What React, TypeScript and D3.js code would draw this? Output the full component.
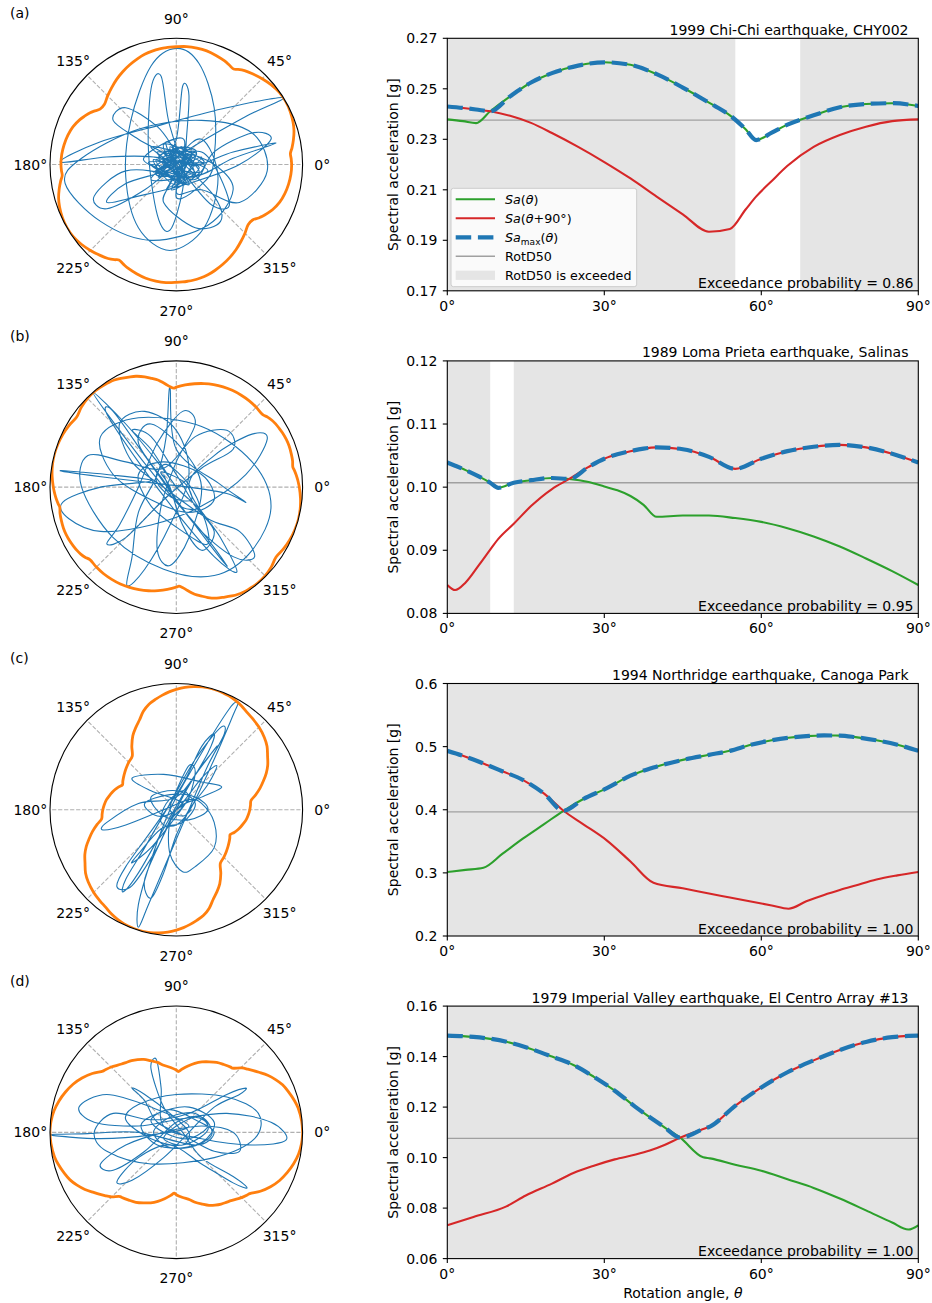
import React from "react";
import * as d3 from "d3";

const FONT = "'DejaVu Sans', 'Liberation Sans', sans-serif";

// ---------------- Panel metadata ----------------
const panelLetters = ["(a)", "(b)", "(c)", "(d)"];
const panelTitles = [
  "1999 Chi-Chi earthquake, CHY002",
  "1989 Loma Prieta earthquake, Salinas",
  "1994 Northridge earthquake, Canoga Park",
  "1979 Imperial Valley earthquake, El Centro Array #13",
];
const exceedanceProb = ["0.86", "0.95", "1.00", "1.00"];
const rotD50 = [0.2376, 0.1007, 0.3967, 0.1076];
const yDomains = [
  [0.17, 0.27],
  [0.08, 0.12],
  [0.2, 0.6],
  [0.06, 0.16],
];
const yTickValues = [
  [0.17, 0.19, 0.21, 0.23, 0.25, 0.27],
  [0.08, 0.09, 0.1, 0.11, 0.12],
  [0.2, 0.3, 0.4, 0.5, 0.6],
  [0.06, 0.08, 0.1, 0.12, 0.14, 0.16],
];
const yTickLabels = [
  ["0.17", "0.19", "0.21", "0.23", "0.25", "0.27"],
  ["0.08", "0.09", "0.10", "0.11", "0.12"],
  ["0.2", "0.3", "0.4", "0.5", "0.6"],
  ["0.06", "0.08", "0.10", "0.12", "0.14", "0.16"],
];
const xTickValues = [0, 30, 60, 90];
const xTickLabels = ["0°", "30°", "60°", "90°"];
const polarTickAngles = [0, 45, 90, 135, 180, 225, 270, 315];
const polarTickLabels = ["0°", "45°", "90°", "135°", "180°", "225°", "270°", "315°"];

// ---------------- Spectral acceleration vs rotation angle ----------------
// (a) Chi-Chi, CHY002
const thetaChiChi = [0, 3, 5.5, 8.2, 12, 16, 20, 25, 30, 35, 40, 45, 50, 54, 57, 59, 62, 65, 70, 75, 80, 85, 90];
const saChiChi = [0.2379, 0.2372, 0.2364, 0.2411, 0.247, 0.2525, 0.2562, 0.2592, 0.2605, 0.2595, 0.2558, 0.2505, 0.2445, 0.2395, 0.234, 0.2297, 0.2326, 0.2358, 0.2395, 0.2427, 0.244, 0.2443, 0.2432];
const sa90ChiChi = [0.243, 0.2424, 0.2418, 0.2411, 0.2393, 0.2365, 0.2325, 0.227, 0.221, 0.2145, 0.2073, 0.2003, 0.1934, 0.1945, 0.2022, 0.2073, 0.2135, 0.2195, 0.227, 0.2317, 0.235, 0.2372, 0.2379];

// (b) Loma Prieta, Salinas
const thetaLoma = [0, 1.5, 3.5, 6, 8.2, 9.75, 12.7, 16, 20, 23.3, 27, 30, 32.5, 35, 37.5, 40, 45, 50, 55, 60, 65, 70, 75, 80, 85, 90];
const saLoma = [0.1039, 0.1034, 0.1027, 0.1017, 0.1007, 0.0999, 0.1007, 0.1011, 0.10145, 0.1013, 0.1008, 0.1001, 0.0995, 0.0986, 0.0972, 0.0953, 0.0955, 0.0955, 0.0951, 0.0945, 0.0935, 0.0922, 0.0906, 0.0887, 0.0867, 0.0845];
const sa90Loma = [0.0845, 0.0837, 0.0849, 0.0876, 0.0901, 0.0918, 0.0942, 0.097, 0.0997, 0.1013, 0.1032, 0.1045, 0.1052, 0.1057, 0.1061, 0.1063, 0.106, 0.1048, 0.1029, 0.1045, 0.1057, 0.1064, 0.1067, 0.1063, 0.1053, 0.1039];

// (c) Northridge, Canoga Park
const thetaNorth = [0, 3.5, 6.9, 10.5, 14.5, 18.5, 22.2, 26, 30.4, 35, 39.4, 45, 50, 54, 58, 62, 65.2, 68.6, 72, 75, 78, 82, 86, 90];
const saNorth = [0.3013, 0.3047, 0.3081, 0.33, 0.3546, 0.3772, 0.3984, 0.417, 0.4338, 0.454, 0.467, 0.479, 0.487, 0.4933, 0.503, 0.51, 0.514, 0.5166, 0.5177, 0.5175, 0.515, 0.51, 0.503, 0.4933];
const sa90North = [0.4933, 0.484, 0.4733, 0.461, 0.447, 0.4255, 0.3984, 0.377, 0.352, 0.318, 0.2844, 0.2755, 0.2674, 0.261, 0.2546, 0.2483, 0.2432, 0.255, 0.265, 0.2728, 0.28, 0.2895, 0.296, 0.3013];

// (d) Imperial Valley, El Centro Array #13
const thetaImp = [0, 5, 11.3, 15, 20, 24.1, 28, 32, 36, 38.7, 41.5, 44.5, 48.9, 50.2, 55, 60, 65, 70, 75, 80, 85, 88.1, 90];
const saImp = [0.1483, 0.1478, 0.1459, 0.1437, 0.14, 0.1367, 0.132, 0.1265, 0.12, 0.116, 0.112, 0.1079, 0.1001, 0.0997, 0.0972, 0.0948, 0.0914, 0.088, 0.0838, 0.0791, 0.0743, 0.0715, 0.0732];
const sa90Imp = [0.0732, 0.0765, 0.0807, 0.085, 0.0897, 0.0939, 0.0968, 0.0993, 0.1012, 0.1028, 0.105, 0.1079, 0.1113, 0.1123, 0.1205, 0.1278, 0.1338, 0.1385, 0.1426, 0.1458, 0.1477, 0.1482, 0.1483];

// ---------------- Ground-motion orbits (normalised displacement, x east, y north) ----------------
const orbitChiChi = [
  [0.02, -0.03], [0.12, 0.04], [-0.1, 0.1], [0.08, -0.14], [-0.16, -0.02], [0.14, 0.12], [-0.04, -0.2], [0.22, 0.0], [-0.2, 0.14], [0.1, -0.1],
  [-0.26, 0.04], [0.06, 0.2], [0.0, -0.26], [0.24, -0.12], [0.3, 0.06],
  [0.3, 0.45], [0.18, 0.8], [0.0, 0.92], [-0.2, 0.78], [-0.36, 0.35], [-0.4, -0.1], [-0.3, -0.5], [-0.05, -0.68], [0.22, -0.5], [0.33, -0.1], [0.2, 0.2],
  [0.0, 0.05], [-0.14, -0.1], [0.12, 0.08], [-0.08, -0.2], [0.18, -0.02], [-0.18, 0.06],
  [-0.55, 0.06], [-0.92, 0.02], [-0.6, 0.18], [-0.1, 0.32], [0.4, 0.45], [0.85, 0.53], [0.55, 0.38], [0.1, 0.12], [-0.1, -0.04],
  [0.08, -0.14], [-0.15, 0.1], [0.25, -0.05], [-0.2, -0.12], [0.12, 0.12], [0.0, -0.22], [0.2, -0.2],
  [0.5, -0.3], [0.72, -0.05], [0.6, 0.25], [0.2, 0.35], [-0.3, 0.28], [-0.75, 0.05], [-0.88, -0.15], [-0.6, -0.45], [-0.2, -0.6], [0.25, -0.48], [0.45, -0.2], [0.3, 0.0],
  [0.05, 0.08], [-0.16, -0.08], [0.14, -0.06], [-0.05, 0.14], [0.05, -0.16], [-0.1, 0.16], [0.22, 0.02], [-0.22, 0.02], [0.12, -0.1],
  [0.45, 0.05], [0.79, 0.17], [0.45, 0.1], [0.1, 0.0],
  [-0.05, 0.3], [-0.12, 0.7], [-0.2, 0.6], [-0.22, 0.1], [-0.15, -0.4], [-0.05, -0.52], [0.05, -0.2], [0.08, 0.2], [0.1, 0.55], [0.05, 0.62], [0.0, 0.2],
  [-0.12, -0.08], [0.2, 0.06], [-0.06, -0.18], [0.08, 0.12], [-0.14, 0.05], [0.14, -0.12],
  [0.3, 0.1], [0.6, 0.25], [0.75, 0.2], [0.5, 0.0], [0.1, -0.15], [-0.3, -0.25], [-0.55, -0.3], [-0.4, -0.15], [0.0, 0.0],
  [-0.3, 0.2], [-0.5, 0.35], [-0.4, 0.45], [-0.15, 0.3], [0.0, 0.1],
  [0.15, -0.08], [-0.18, 0.04], [0.0, -0.16], [0.16, 0.1], [-0.02, 0.1],
  [0.3, -0.25], [0.35, -0.45], [0.15, -0.5], [-0.1, -0.3], [-0.05, -0.1],
  [-0.4, -0.05], [-0.65, -0.25], [-0.55, -0.35], [-0.25, -0.2], [0.0, 0.0],
  [0.12, 0.06], [-0.12, -0.04], [0.08, -0.1], [-0.06, 0.12], [0.14, 0.0], [-0.16, 0.04], [0.02, -0.14], [0.04, 0.14], [-0.14, -0.1], [0.16, 0.08],
  [-0.04, 0.08], [0.1, -0.16], [-0.2, 0.0], [0.18, -0.06], [-0.08, 0.18], [0.02, -0.1], [-0.1, 0.06], [0.06, 0.04], [-0.18, -0.06], [0.2, 0.1],
  [0.42, -0.3], [0.28, -0.32], [0.05, -0.05],
];

const orbitLoma = [
  [0, 0], [-0.15, 0.2], [-0.4, 0.5], [-0.66, 0.75], [-0.45, 0.45], [-0.1, 0.0], [0.2, -0.35], [0.4, -0.62], [0.3, -0.5], [0.0, -0.1],
  [-0.25, 0.25], [-0.5, 0.6], [-0.55, 0.58], [-0.3, 0.2], [0.0, -0.2], [0.3, -0.55], [0.48, -0.67], [0.35, -0.4], [0.1, 0.0],
  [0.3, 0.25], [0.6, 0.42], [0.72, 0.38], [0.55, 0.1], [0.2, -0.15], [-0.2, -0.3], [-0.6, -0.35], [-0.85, -0.25], [-0.9, -0.12], [-0.6, 0.0], [-0.2, 0.05],
  [-0.55, 0.1], [-0.92, 0.13], [-0.5, 0.07], [0.1, 0.0], [0.4, -0.05], [0.55, -0.12], [0.35, 0.02],
  [0.0, 0.3], [-0.05, 0.79], [-0.08, 0.4], [-0.15, 0.1],
  [-0.3, -0.2], [-0.35, -0.55], [-0.39, -0.78], [-0.25, -0.65], [-0.05, -0.3], [0.1, 0.1], [0.0, 0.45], [-0.25, 0.6], [-0.45, 0.5], [-0.35, 0.2], [-0.1, 0.0],
  [0.25, -0.25], [0.5, -0.35], [0.62, -0.55], [0.45, -0.55], [0.15, -0.3], [-0.1, 0.05], [-0.3, 0.35], [-0.2, 0.5], [0.05, 0.3], [0.2, 0.0],
  [0.1, -0.4], [-0.05, -0.62], [-0.15, -0.5], [-0.12, -0.15], [0.0, 0.2], [0.15, 0.5], [0.05, 0.6], [-0.15, 0.35], [-0.3, 0.0],
  [-0.45, -0.3], [-0.55, -0.45], [-0.4, -0.4], [-0.1, -0.1], [0.2, 0.15], [0.45, 0.3], [0.4, 0.45], [0.15, 0.4], [-0.1, 0.15],
  [-0.4, 0.2], [-0.7, 0.25], [-0.75, 0.0], [-0.5, -0.4], [-0.1, -0.65], [0.3, -0.7], [0.6, -0.5], [0.75, -0.15], [0.6, 0.2], [0.2, 0.48], [-0.3, 0.55], [-0.6, 0.4], [-0.5, 0.1],
  [-0.2, -0.1], [0.1, -0.2], [0.3, -0.1], [0.2, 0.1], [-0.1, 0.2], [-0.3, 0.1], [-0.2, -0.15], [0.05, -0.35], [0.25, -0.45], [0.2, -0.2], [0.0, 0.0],
  [-0.2, 0.3], [-0.35, 0.45], [-0.2, 0.4], [0.0, 0.1], [0.15, -0.15], [0.3, -0.35], [0.2, -0.5], [0.05, -0.3], [-0.05, 0.0],
  [-0.12, 0.12], [0.06, 0.04], [0.12, -0.1], [-0.04, -0.08], [-0.16, 0.06], [-0.08, 0.18], [0.1, 0.02], [0.18, -0.16], [0.02, -0.14], [-0.1, 0.1],
];

const orbitNorth = [
  [0, 0], [0.1, 0.08], [0.05, 0.15], [-0.08, 0.05], [-0.12, -0.1], [0.0, -0.12], [0.12, 0.02],
  [0.3, 0.4], [0.45, 0.75], [0.49, 0.85], [0.42, 0.8], [0.2, 0.45], [-0.05, 0.0], [-0.2, -0.4], [-0.3, -0.75], [-0.3, -0.93], [-0.22, -0.75], [-0.05, -0.35], [0.1, 0.0],
  [0.25, 0.35], [0.38, 0.6], [0.35, 0.65], [0.15, 0.4], [-0.05, 0.05], [-0.25, -0.3], [-0.4, -0.55], [-0.42, -0.65], [-0.3, -0.5], [-0.1, -0.15],
  [0.1, 0.2], [0.28, 0.45], [0.32, 0.5], [0.2, 0.35], [0.0, 0.1],
  [-0.3, 0.05], [-0.55, -0.1], [-0.58, -0.16], [-0.4, -0.12], [-0.1, 0.0], [0.1, 0.08], [0.2, 0.05],
  [0.3, -0.1], [0.3, -0.3], [0.15, -0.45], [0.05, -0.49], [-0.05, -0.35], [-0.05, -0.1], [0.05, 0.05],
  [-0.2, 0.15], [-0.35, 0.25], [-0.1, 0.28], [0.2, 0.22], [0.36, 0.18], [0.2, 0.1], [0.0, 0.0],
  [-0.15, -0.3], [-0.35, -0.6], [-0.47, -0.61], [-0.4, -0.45], [-0.15, -0.1], [0.05, 0.2], [0.2, 0.5], [0.3, 0.6], [0.25, 0.45], [0.05, 0.1],
  [-0.1, -0.2], [-0.25, -0.55], [-0.2, -0.7], [-0.1, -0.5], [0.0, -0.2], [0.1, 0.0], [0.25, 0.2], [0.32, 0.35], [0.2, 0.25], [0.0, 0.0],
  [-0.15, -0.05], [-0.25, 0.05], [-0.05, 0.12], [0.15, 0.1], [0.25, 0.0], [0.1, -0.08], [-0.1, -0.05], [-0.2, 0.1], [0.0, 0.15], [0.15, 0.05],
  [0.05, -0.1], [-0.12, -0.15], [-0.3, -0.35], [-0.35, -0.42], [-0.2, -0.3], [0.0, -0.05], [0.1, 0.1], [0.15, 0.3], [0.1, 0.35], [0.0, 0.15],
  [-0.05, 0.0], [0.05, -0.05], [0.12, 0.0],
];

const orbitImp = [
  [0, 0.05], [0.15, 0.12], [0.25, 0.05], [0.1, -0.05], [-0.1, 0.0], [-0.2, 0.1], [-0.05, 0.18], [0.15, 0.1], [0.3, 0.0], [0.15, -0.1],
  [-0.3, 0.0], [-0.7, -0.01], [-1.0, -0.02], [-0.6, -0.05], [-0.2, -0.02], [0.1, 0.05],
  [-0.2, 0.2], [-0.55, 0.3], [-0.77, 0.2], [-0.65, 0.08], [-0.3, 0.05], [0.0, 0.1],
  [0.4, 0.15], [0.75, 0.08], [0.87, -0.06], [0.6, -0.1], [0.2, -0.05], [-0.1, 0.05],
  [-0.12, 0.35], [-0.16, 0.58], [-0.2, 0.5], [-0.1, 0.2], [0.05, 0.0],
  [0.2, -0.2], [0.45, -0.35], [0.56, -0.44], [0.45, -0.4], [0.2, -0.25], [-0.05, -0.1], [-0.3, -0.2], [-0.47, -0.39], [-0.35, -0.38], [-0.1, -0.2], [0.1, 0.0],
  [0.3, 0.2], [0.5, 0.3], [0.55, 0.35], [0.4, 0.3], [0.1, 0.15], [-0.2, 0.1],
  [-0.5, 0.15], [-0.65, 0.0], [-0.55, -0.15], [-0.2, -0.25], [0.3, -0.2], [0.62, -0.05], [0.65, 0.15], [0.4, 0.28], [0.0, 0.3], [-0.3, 0.22], [-0.4, 0.1],
  [-0.2, -0.05], [0.05, -0.1], [0.25, 0.02], [0.15, 0.15], [-0.05, 0.12], [-0.18, 0.0], [-0.05, -0.12], [0.2, -0.08], [0.3, 0.08], [0.1, 0.2],
  [-0.15, 0.15], [-0.28, 0.05], [-0.15, -0.1], [0.1, -0.12], [0.28, -0.02], [0.2, 0.12], [0.0, 0.08],
  [-0.25, -0.15], [-0.5, -0.3], [-0.6, -0.25], [-0.4, -0.1], [-0.1, 0.0],
  [0.2, 0.05], [0.45, 0.0], [0.5, -0.15], [0.3, -0.15], [0.05, -0.02], [-0.15, 0.08], [-0.25, 0.25], [-0.35, 0.35], [-0.25, 0.3], [-0.05, 0.15],
  [0.1, 0.0], [0.05, -0.1], [-0.1, -0.05], [0.0, 0.05],
];

const panels = [
  { theta: thetaChiChi, sa: saChiChi, sa90: sa90ChiChi, orbit: orbitChiChi },
  { theta: thetaLoma, sa: saLoma, sa90: sa90Loma, orbit: orbitLoma },
  { theta: thetaNorth, sa: saNorth, sa90: sa90North, orbit: orbitNorth },
  { theta: thetaImp, sa: saImp, sa90: sa90Imp, orbit: orbitImp },
];

// ---------------- Layout ----------------
const W = 932;
const H = 1303;
const ROW_STEP = 322.6;
const TOP0 = 38.3;
const PLOT_H = 252.5;
const X0 = 447.3;
const X1 = 918.3;
const PCX = 176.3;
const PR = 126.3;
const C_GREEN = "#2ca02c";
const C_RED = "#d62728";
const C_BLUE = "#1f77b4";
const C_ORANGE = "#ff7f0e";
const C_SHADE = "#e5e5e5";
const C_ROT = "#a0a0a0";

function exceedIntervals(theta: number[], samax: number[], thr: number) {
  const out: [number, number][] = [];
  let start: number | null = samax[0] >= thr ? theta[0] : null;
  for (let i = 1; i < theta.length; i++) {
    const a = samax[i - 1] - thr;
    const b = samax[i] - thr;
    if (a >= 0 && b < 0) {
      const t = theta[i - 1] + ((theta[i] - theta[i - 1]) * a) / (a - b);
      out.push([start as number, t]);
      start = null;
    } else if (a < 0 && b >= 0) {
      start = theta[i - 1] + ((theta[i] - theta[i - 1]) * -a) / (b - a);
    }
  }
  if (start !== null) out.push([start, theta[theta.length - 1]]);
  return out;
}

function Legend({ top }: { top: number }) {
  const bx = 451;
  const by = top + 150;
  const rows = [0, 1, 2, 3, 4].map((k) => by + 11 + k * 19);
  const hx1 = 455.7;
  const hx2 = 495;
  const tx = 505;
  const fs = 12.7;
  return (
    <g fontFamily={FONT} fontSize={fs}>
      <rect x={bx} y={by} width={185.7} height={98.4} rx={2.5} fill="white" fillOpacity={0.8} stroke="#cccccc" strokeWidth={1} />
      <line x1={hx1} x2={hx2} y1={rows[0]} y2={rows[0]} stroke={C_GREEN} strokeWidth={2.1} />
      <line x1={hx1} x2={hx2} y1={rows[1]} y2={rows[1]} stroke={C_RED} strokeWidth={2.1} />
      <line x1={hx1} x2={hx2} y1={rows[2]} y2={rows[2]} stroke={C_BLUE} strokeWidth={4.2} strokeDasharray="15.5,6.7" />
      <line x1={hx1} x2={hx2} y1={rows[3]} y2={rows[3]} stroke={C_ROT} strokeWidth={1.4} />
      <rect x={hx1} y={rows[4] - 4.6} width={hx2 - hx1} height={9.2} fill={C_SHADE} />
      <text x={tx} y={rows[0]} dy="0.35em">
        <tspan fontStyle="italic">Sa</tspan>(<tspan fontStyle="italic">θ</tspan>)
      </text>
      <text x={tx} y={rows[1]} dy="0.35em">
        <tspan fontStyle="italic">Sa</tspan>(<tspan fontStyle="italic">θ</tspan>+90°)
      </text>
      <text x={tx} y={rows[2]} dy="0.35em">
        <tspan fontStyle="italic">Sa</tspan>
        <tspan fontSize={9} dy={3}>max</tspan>
        <tspan dy={-3}>(</tspan>
        <tspan fontStyle="italic">θ</tspan>)
      </text>
      <text x={tx} y={rows[3]} dy="0.35em">RotD50</text>
      <text x={tx} y={rows[4]} dy="0.35em">RotD50 is exceeded</text>
    </g>
  );
}

function RightPanel({ i }: { i: number }) {
  const p = panels[i];
  const top = TOP0 + ROW_STEP * i;
  const bottom = top + PLOT_H;
  const x = d3.scaleLinear().domain([0, 90]).range([X0, X1]);
  const y = d3.scaleLinear().domain(yDomains[i]).range([bottom, top]);
  const samax = p.theta.map((_, k) => Math.max(p.sa[k], p.sa90[k]));
  const thr = rotD50[i];
  const intervals = exceedIntervals(p.theta, samax, thr);
  const line = d3
    .line<number>()
    .x((_, k) => x(p.theta[k]))
    .y((v) => y(v))
    .curve(d3.curveMonotoneX);
  const clipId = `clip-${i}`;
  return (
    <g>
      <defs>
        <clipPath id={clipId}>
          <rect x={X0} y={top} width={X1 - X0} height={PLOT_H} />
        </clipPath>
      </defs>
      <g clipPath={`url(#${clipId})`}>
        {intervals.map(([a, b], k) => (
          <rect key={k} x={x(a)} y={top} width={x(b) - x(a)} height={PLOT_H} fill={C_SHADE} />
        ))}
        <line x1={X0} x2={X1} y1={y(thr)} y2={y(thr)} stroke={C_ROT} strokeWidth={1.4} />
        <path d={line(p.sa) || ""} fill="none" stroke={C_GREEN} strokeWidth={2.1} />
        <path d={line(p.sa90) || ""} fill="none" stroke={C_RED} strokeWidth={2.1} />
        <path d={line(samax) || ""} fill="none" stroke={C_BLUE} strokeWidth={4.2} strokeDasharray="15.5,6.7" />
      </g>
      <rect x={X0} y={top} width={X1 - X0} height={PLOT_H} fill="none" stroke="black" strokeWidth={1.1} />
      {yTickValues[i].map((v, k) => (
        <g key={k}>
          <line x1={X0 - 4.5} x2={X0} y1={y(v)} y2={y(v)} stroke="black" strokeWidth={1.1} />
          <text x={X0 - 10} y={y(v)} dy="0.36em" textAnchor="end" fontFamily={FONT} fontSize={14}>
            {yTickLabels[i][k]}
          </text>
        </g>
      ))}
      {xTickValues.map((v, k) => (
        <g key={k}>
          <line x1={x(v)} x2={x(v)} y1={bottom} y2={bottom + 4.5} stroke="black" strokeWidth={1.1} />
          <text x={x(v)} y={bottom + 20} textAnchor="middle" fontFamily={FONT} fontSize={14}>
            {xTickLabels[k]}
          </text>
        </g>
      ))}
      <text
        transform={`translate(393,${(top + bottom) / 2}) rotate(-90)`}
        textAnchor="middle"
        dy="0.35em"
        fontFamily={FONT}
        fontSize={14}
      >
        Spectral acceleration [g]
      </text>
      <text x={908.5} y={top - 3.5} textAnchor="end" fontFamily={FONT} fontSize={14}>
        {panelTitles[i]}
      </text>
      <text x={913.5} y={bottom - 2.5} textAnchor="end" fontFamily={FONT} fontSize={14}>
        {`Exceedance probability = ${exceedanceProb[i]}`}
      </text>
      {i === 0 && <Legend top={top} />}
      {i === 3 && (
        <text x={(X0 + X1) / 2} y={bottom + 39} textAnchor="middle" fontFamily={FONT} fontSize={14}>
          Rotation angle, <tspan fontStyle="italic">θ</tspan>
        </text>
      )}
    </g>
  );
}

function PolarPanel({ i }: { i: number }) {
  const p = panels[i];
  const top = TOP0 + ROW_STEP * i;
  const cy = top + PLOT_H / 2;
  const cx = PCX;
  const samax = p.theta.map((_, k) => Math.max(p.sa[k], p.sa90[k]));
  const maxSa = d3.max(samax) as number;
  const r = d3.scaleLinear().domain([0, maxSa]).range([0, PR]);
  // Sa(θ) over the full circle: Sa(θ) for 0–90°, Sa(θ+90°) for 90–180°, period 180°
  const pts: [number, number][] = [];
  for (const shift of [0, 180]) {
    p.theta.forEach((t, k) => {
      if (t < 90) pts.push([t + shift, p.sa[k]]);
    });
    p.theta.forEach((t, k) => {
      if (t < 90) pts.push([t + 90 + shift, p.sa90[k]]);
    });
  }
  const toXY = (deg: number, v: number): [number, number] => {
    const a = (deg * Math.PI) / 180;
    return [cx + r(v) * Math.cos(a), cy - r(v) * Math.sin(a)];
  };
  const orange = d3.line().curve(d3.curveCatmullRomClosed.alpha(0.5))(pts.map(([d, v]) => toXY(d, v)));
  const ox = d3.scaleLinear().domain([-1, 1]).range([cx - PR, cx + PR]);
  const oy = d3.scaleLinear().domain([-1, 1]).range([cy + PR, cy - PR]);
  const orbitPath = d3
    .line<number[]>()
    .x((d) => ox(d[0]))
    .y((d) => oy(d[1]))
    .curve(d3.curveCatmullRom.alpha(0))(p.orbit);
  const clipId = `pclip-${i}`;
  return (
    <g>
      <defs>
        <clipPath id={clipId}>
          <circle cx={cx} cy={cy} r={PR} />
        </clipPath>
      </defs>
      <circle cx={cx} cy={cy} r={PR} fill="white" />
      {polarTickAngles.map((a, k) => {
        const rad = (a * Math.PI) / 180;
        return (
          <line
            key={k}
            x1={cx}
            y1={cy}
            x2={cx + PR * Math.cos(rad)}
            y2={cy - PR * Math.sin(rad)}
            stroke="#b0b0b0"
            strokeWidth={1.1}
            strokeDasharray="4.2,1.8"
          />
        );
      })}
      <g clipPath={`url(#${clipId})`}>
        <path d={orbitPath || ""} fill="none" stroke={C_BLUE} strokeWidth={1.1} strokeLinejoin="round" />
        <path d={orange || ""} fill="none" stroke={C_ORANGE} strokeWidth={2.8} />
      </g>
      <circle cx={cx} cy={cy} r={PR} fill="none" stroke="black" strokeWidth={1.1} />
      {polarTickAngles.map((a, k) => {
        const rad = (a * Math.PI) / 180;
        return (
          <text
            key={k}
            x={cx + 146 * Math.cos(rad)}
            y={cy - 146 * Math.sin(rad)}
            dy="0.36em"
            textAnchor="middle"
            fontFamily={FONT}
            fontSize={14}
          >
            {polarTickLabels[k]}
          </text>
        );
      })}
      <text x={10} y={top - 20.3} fontFamily={FONT} fontSize={14}>
        {panelLetters[i]}
      </text>
    </g>
  );
}

export default function App() {
  return (
    <svg
      width={W}
      height={H}
      viewBox={`0 0 ${W} ${H}`}
      style={{ position: "absolute", left: 0, top: 0, background: "white" }}
    >
      <rect x={0} y={0} width={W} height={H} fill="white" />
      {[0, 1, 2, 3].map((i) => (
        <g key={i}>
          <PolarPanel i={i} />
          <RightPanel i={i} />
        </g>
      ))}
    </svg>
  );
}
